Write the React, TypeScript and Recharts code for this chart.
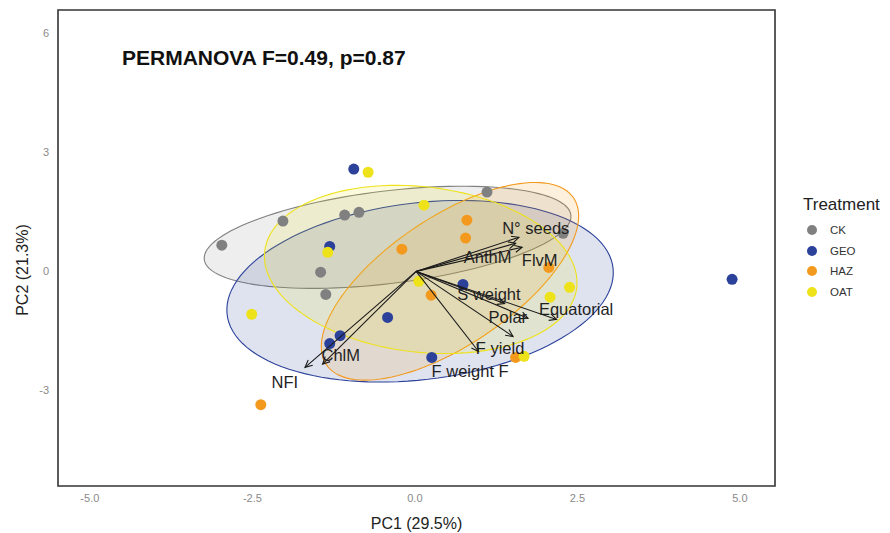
import { ScatterChart, Scatter, XAxis, YAxis, ReferenceArea } from 'recharts';

// Puntos PCA por tratamiento (PC1, PC2)
const puntosCK = [
  { x: -2.97, y: 0.64 }, { x: -2.03, y: 1.25 }, { x: -1.08, y: 1.40 }, { x: -0.86, y: 1.47 },
  { x: -1.45, y: -0.04 }, { x: -1.37, y: -0.60 }, { x: 1.11, y: 1.98 }, { x: 2.28, y: 0.94 },
];
const puntosGEO = [
  { x: -0.94, y: 2.56 }, { x: -1.31, y: 0.61 }, { x: -0.42, y: -1.18 }, { x: -1.15, y: -1.64 },
  { x: -1.31, y: -1.84 }, { x: 0.26, y: -2.19 }, { x: 0.74, y: -0.35 }, { x: 4.88, y: -0.22 },
];
const puntosHAZ = [
  { x: -2.37, y: -3.38 }, { x: -0.20, y: 0.54 }, { x: 0.25, y: -0.62 }, { x: 0.80, y: 1.27 },
  { x: 0.78, y: 0.82 }, { x: 2.06, y: 0.08 }, { x: 1.55, y: -2.19 },
];
const puntosOAT = [
  { x: -0.72, y: 2.48 }, { x: -2.51, y: -1.10 }, { x: -1.34, y: 0.46 }, { x: 0.14, y: 1.65 },
  { x: 0.06, y: -0.27 }, { x: 2.38, y: -0.42 }, { x: 2.08, y: -0.67 }, { x: 1.68, y: -2.16 },
];

// Elipses de confianza: centro y dos semiejes conjugados (unidades de datos)
const elipseCK = { cx: -0.42, cy: 0.84, ax: 2.82, ay: 0.56, bx: 0.08, by: -1.16 };
const elipseGEO = { cx: 0.08, cy: -0.52, ax: 2.97, ay: 0.56, bx: 0.12, by: -2.22 };
const elipseHAZ = { cx: 0.54, cy: -0.27, ax: 1.88, ay: 2.15, bx: 0.62, by: -1.26 };
const elipseOAT = { cx: 0.09, cy: 0.03, ax: 2.40, ay: -0.46, bx: -0.15, by: -2.07 };

// Vectores de variables (origen -> punta) y posición de su etiqueta
const origenVectores = { x: 0.02, y: -0.02 };
const vectores = [
  { name: 'N° seeds', x: 1.60, y: 0.84, lx: 1.86, ly: 1.07 },
  { name: 'AnthM', x: 1.55, y: 0.69, lx: 1.12, ly: 0.34 },
  { name: 'FlvM', x: 1.65, y: 0.59, lx: 1.92, ly: 0.26 },
  { name: 'S weight', x: 1.38, y: -0.83, lx: 1.14, ly: -0.60 },
  { name: 'Equatorial', x: 2.18, y: -1.23, lx: 2.48, ly: -0.98 },
  { name: 'Polar', x: 1.74, y: -1.20, lx: 1.43, ly: -1.18 },
  { name: 'F yield', x: 1.51, y: -1.66, lx: 1.31, ly: -1.96 },
  { name: 'F weight F', x: 0.98, y: -2.04, lx: 0.85, ly: -2.52 },
  { name: 'ChlM', x: -1.42, y: -2.36, lx: -1.14, ly: -2.14 },
  { name: 'NFI', x: -1.69, y: -2.44, lx: -2.00, ly: -2.80 },
];

const ticksX = [-5, -2.5, 0, 2.5, 5];
const ticksY = [-3, 0, 3, 6];
const dominioX: [number, number] = [-5.49, 5.54];
const dominioY: [number, number] = [-5.43, 6.57];

const GRUPOS = [
  { key: 'CK', color: '#808080', fill: '#8c8c8c', puntos: puntosCK, elipse: elipseCK },
  { key: 'GEO', color: '#2B419A', fill: '#2B419A', puntos: puntosGEO, elipse: elipseGEO },
  { key: 'HAZ', color: '#F39A1E', fill: '#F39A1E', puntos: puntosHAZ, elipse: elipseHAZ },
  { key: 'OAT', color: '#EEE21B', fill: '#EEE21B', puntos: puntosOAT, elipse: elipseOAT },
];

const FUENTE = '"Liberation Sans", Arial, sans-serif';
const nada = () => <g />;

// dibuja la elipse a partir de centro + extremos de semiejes ya escalados
function trazoElipse(pts: any[], relleno: string, borde: string) {
  if (!pts || pts.length < 3) return <g />;
  const [c, a, b] = pts;
  const ux = a.x - c.x, uy = a.y - c.y, vx = b.x - c.x, vy = b.y - c.y;
  let d = '';
  for (let i = 0; i <= 120; i++) {
    const t = (i / 120) * Math.PI * 2;
    const px = c.x + ux * Math.cos(t) + vx * Math.sin(t);
    const py = c.y + uy * Math.cos(t) + vy * Math.sin(t);
    d += (i === 0 ? 'M' : 'L') + px.toFixed(2) + ',' + py.toFixed(2);
  }
  return <path d={d + 'Z'} fill={relleno} fillOpacity={0.15} stroke={borde} strokeWidth={1.1} />;
}

function trazoFlecha(pts: any[]) {
  if (!pts || pts.length < 2) return <g />;
  const [o, t] = pts;
  const ang = Math.atan2(t.y - o.y, t.x - o.x);
  const L = 8, ab = Math.PI / 7;
  const p1 = `${t.x - L * Math.cos(ang - ab)},${t.y - L * Math.sin(ang - ab)}`;
  const p2 = `${t.x - L * Math.cos(ang + ab)},${t.y - L * Math.sin(ang + ab)}`;
  return (
    <g stroke="#1a1a1a" strokeWidth={1.1} fill="none">
      <line x1={o.x} y1={o.y} x2={t.x} y2={t.y} />
      <polyline points={`${p1} ${t.x},${t.y} ${p2}`} />
    </g>
  );
}

export default function App() {
  const etiquetas = vectores.map((v) => ({ x: v.lx, y: v.ly, name: v.name }));
  return (
    <div style={{ position: 'absolute', left: 0, top: 0, width: 890, height: 533, background: '#fff', fontFamily: FUENTE }}>
      <ScatterChart width={890} height={533} margin={{ top: 10, right: 115, left: 0, bottom: 0 }}>
        <XAxis
          type="number" dataKey="x" domain={dominioX} ticks={ticksX} allowDataOverflow
          tickFormatter={(v: number) => v.toFixed(1)} axisLine={false} tickLine={false} tickSize={6} height={47}
          tick={{ fill: '#8a8a8a', fontSize: 11, fontFamily: FUENTE }}
          label={{ value: 'PC1 (29.5%)', position: 'insideBottom', offset: 4, fill: '#222', fontSize: 16, fontFamily: FUENTE }}
        />
        <YAxis
          type="number" dataKey="y" domain={dominioY} ticks={ticksY} allowDataOverflow
          axisLine={false} tickLine={false} tickSize={3} tickMargin={6} width={58}
          tick={{ fill: '#8a8a8a', fontSize: 11, fontFamily: FUENTE }}
          label={{
            content: () => {
              const cx = 22, cy = 270;
              return (
                <text x={cx} y={cy} transform={`rotate(-90, ${cx}, ${cy})`} textAnchor="middle" dominantBaseline="central"
                  fill="#222" fontSize={16} fontFamily={FUENTE}>PC2 (21.3%)</text>
              );
            },
          }}
        />

        {GRUPOS.map((g) => {
          const e = g.elipse;
          const datos = [
            { x: e.cx, y: e.cy },
            { x: e.cx + e.ax, y: e.cy + e.ay },
            { x: e.cx + e.bx, y: e.cy + e.by },
          ];
          return (
            <Scatter key={'el-' + g.key} data={datos} shape={nada} isAnimationActive={false}
              line={(p: any) => trazoElipse(p.points, g.fill, g.color)} />
          );
        })}

        {GRUPOS.map((g) => (
          <Scatter key={'pt-' + g.key} data={g.puntos} isAnimationActive={false}
            shape={(p: any) => <circle cx={p.cx} cy={p.cy} r={5.5} fill={g.color} />} />
        ))}

        {vectores.map((v) => (
          <Scatter key={'vec-' + v.name} data={[origenVectores, { x: v.x, y: v.y }]} shape={nada} isAnimationActive={false}
            line={(p: any) => trazoFlecha(p.points)} />
        ))}

        <Scatter data={etiquetas} isAnimationActive={false}
          shape={(p: any) => (
            <text x={p.cx} y={p.cy} textAnchor="middle" dominantBaseline="central" fill="#1f1f1f"
              fontSize={16.5} fontFamily={FUENTE}>{p.payload.name}</text>
          )} />

        <ReferenceArea x1={dominioX[0]} x2={dominioX[1]} y1={dominioY[0]} y2={dominioY[1]}
          fill="none" fillOpacity={0} stroke="#333" strokeWidth={1.6} ifOverflow="visible" />
      </ScatterChart>

      {/* Título */}
      <div style={{ position: 'absolute', left: 122, top: 46, fontSize: 21, fontWeight: 'bold', color: '#111', whiteSpace: 'nowrap' }}>
        PERMANOVA F=0.49, p=0.87
      </div>

      {/* Leyenda */}
      <div style={{ position: 'absolute', left: 803, top: 195, color: '#222' }}>
        <div style={{ fontSize: 17, lineHeight: '20px' }}>Treatment</div>
        {GRUPOS.map((g, i) => (
          <div key={g.key} style={{ position: 'absolute', left: 0, top: 29 + i * 20.7, display: 'flex', alignItems: 'center' }}>
            <span style={{ width: 10, height: 10, borderRadius: 5, background: g.color, marginLeft: 4, marginRight: 13 }} />
            <span style={{ fontSize: 11.5, color: '#333' }}>{g.key}</span>
          </div>
        ))}
      </div>
    </div>
  );
}
